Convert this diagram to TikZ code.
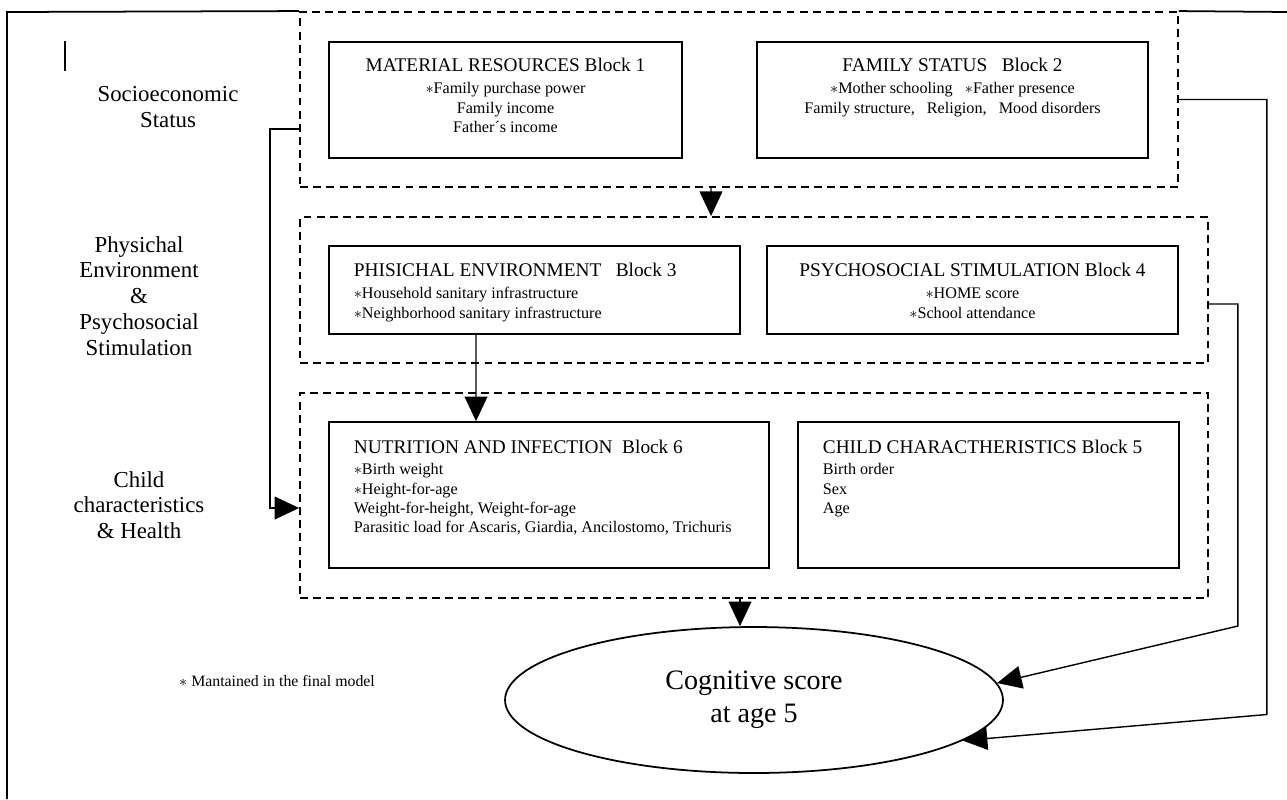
\documentclass[tikz,border=0pt]{standalone}
\usepackage{fontspec}
\setmainfont{Liberation Serif}
\usetikzlibrary{shapes.geometric}
\usetikzlibrary{positioning}
\usetikzlibrary{arrows.meta}

\newcommand{\blockhead}[1]{{\fontsize{11}{11}\selectfont #1}}

\begin{document}
\begin{tikzpicture}
          [x=0.02cm, y=-0.02cm, line width=0.8pt,
           >={Triangle[length=14pt,width=13pt]},
           block/.style = {draw, rectangle, line width=1pt, inner sep=0pt},
           group/.style = {draw, rectangle, dash pattern=on 4.5pt off 3pt, line width=1.1pt, inner sep=0pt},
           side/.style = {align=center, font=\fontsize{13}{14.7}\selectfont},
           body/.style = {inner sep=0pt, font=\fontsize{9.2}{11}\selectfont}]
          \useasboundingbox (0,0) rectangle (1287,799);

          % groups and blocks
          \node[group, minimum width=17.56cm, minimum height=3.5cm] (socio) at (739,99.5) {};
          \node[block, minimum width=7.06cm, minimum height=2.32cm] (mat) at (505.5,100) {};
          \node[block, minimum width=7.82cm, minimum height=2.32cm] (fam) at (952.5,100) {};
          \node[group, minimum width=18.16cm, minimum height=2.92cm] (envi) at (754,290) {};
          \node[block, minimum width=8.22cm, minimum height=1.76cm] (phi) at (534.5,290) {};
          \node[block, minimum width=8.22cm, minimum height=1.76cm] (psy) at (972.5,290) {};
          \node[group, minimum width=18.16cm, minimum height=4.1cm] (child) at (754,495.5) {};
          \node[block, minimum width=8.8cm, minimum height=2.92cm] (nut) at (549,495) {};
          \node[block, minimum width=7.62cm, minimum height=2.92cm] (chi) at (988.5,495) {};
          \node[draw, ellipse, line width=1pt, minimum width=9.96cm, minimum height=2.92cm,
                align=center, font=\fontsize{16}{18.7}\selectfont] (cog) at (754,700) {Cognitive score\\at age 5};

          % block texts
          \node[body, align=center, below=0.33cm of mat.north] (mattext)
               {\blockhead{MATERIAL RESOURCES Block 1}\\[1.5pt]
                $\ast$Family purchase power\\ Family income\\ Father´s income};
          \node[body, align=center, below=0.33cm of fam.north] (famtext)
               {\blockhead{FAMILY STATUS\ \ \ Block 2}\\[1.5pt]
                $\ast$Mother schooling\ \ \ $\ast$Father presence\\
                Family structure,\ \ \ Religion,\ \ \ Mood disorders};
          \node[body, align=left, anchor=north west] (phitext) at ([xshift=0.5cm, yshift=-0.35cm]phi.north west)
               {\blockhead{PHISICHAL ENVIRONMENT\ \ \ Block 3}\\[1.5pt]
                $\ast$Household sanitary infrastructure\\
                $\ast$Neighborhood sanitary infrastructure};
          \node[body, align=center, below=0.35cm of psy.north] (psytext)
               {\blockhead{PSYCHOSOCIAL STIMULATION Block 4}\\[1.5pt]
                $\ast$HOME score\\ $\ast$School attendance};
          \node[body, align=left, anchor=north west] (nuttext) at ([xshift=0.5cm, yshift=-0.37cm]nut.north west)
               {\blockhead{NUTRITION AND INFECTION\ \ Block 6}\\[1pt]
                $\ast$Birth weight\\ $\ast$Height-for-age\\
                Weight-for-height, Weight-for-age\\
                Parasitic load for Ascaris, Giardia, Ancilostomo, Trichuris};
          \node[body, align=left, anchor=north west] (chitext) at ([xshift=0.5cm, yshift=-0.37cm]chi.north west)
               {\blockhead{CHILD CHARACTHERISTICS Block 5}\\[1pt]
                Birth order\\ Sex\\ Age};

          % side labels
          \node[side] (lsocio) at (168,107) {Socioeconomic\\Status};
          \node[side] (lenvi) at (139,296) {Physichal\\Environment\\\&\\Psychosocial\\Stimulation};
          \node[side] (lchild) at (139,505) {Child\\characteristics\\\& Health};
          \node[font=\fontsize{9}{11}\selectfont] (note) at (277,681) {$\ast$ Mantained in the final model};

          % frame
          \draw[line width=1pt] (socio.north west) -- (7,12) -- (7,799);
          \draw[line width=1pt] (socio.north east) -- (1287,12);
          \draw[line width=0.6pt] (65,41) -- (65,71);

          % connectors
          \draw[->] ([xshift=-0.56cm]socio.south) -- ([xshift=-0.86cm]envi.north);
          \draw[->] ([xshift=-1.17cm]phi.south) -- ([xshift=-1.46cm]nut.north);
          \draw[->] ([yshift=-0.59cm]socio.west) -- ++(-29,0) |- ([yshift=-0.25cm]child.west);
          \draw[->] ([xshift=-0.28cm]child.south) -- ([xshift=-0.28cm]cog.north);
          \draw[->] ([yshift=-0.28cm]envi.east) -- ++(29,0) -- ++(0,322) -- (cog.4);
          \draw[->] (socio.east) -- ++(88,0) -- ++(0,615) -- (cog.-11);
\end{tikzpicture}
\end{document}
